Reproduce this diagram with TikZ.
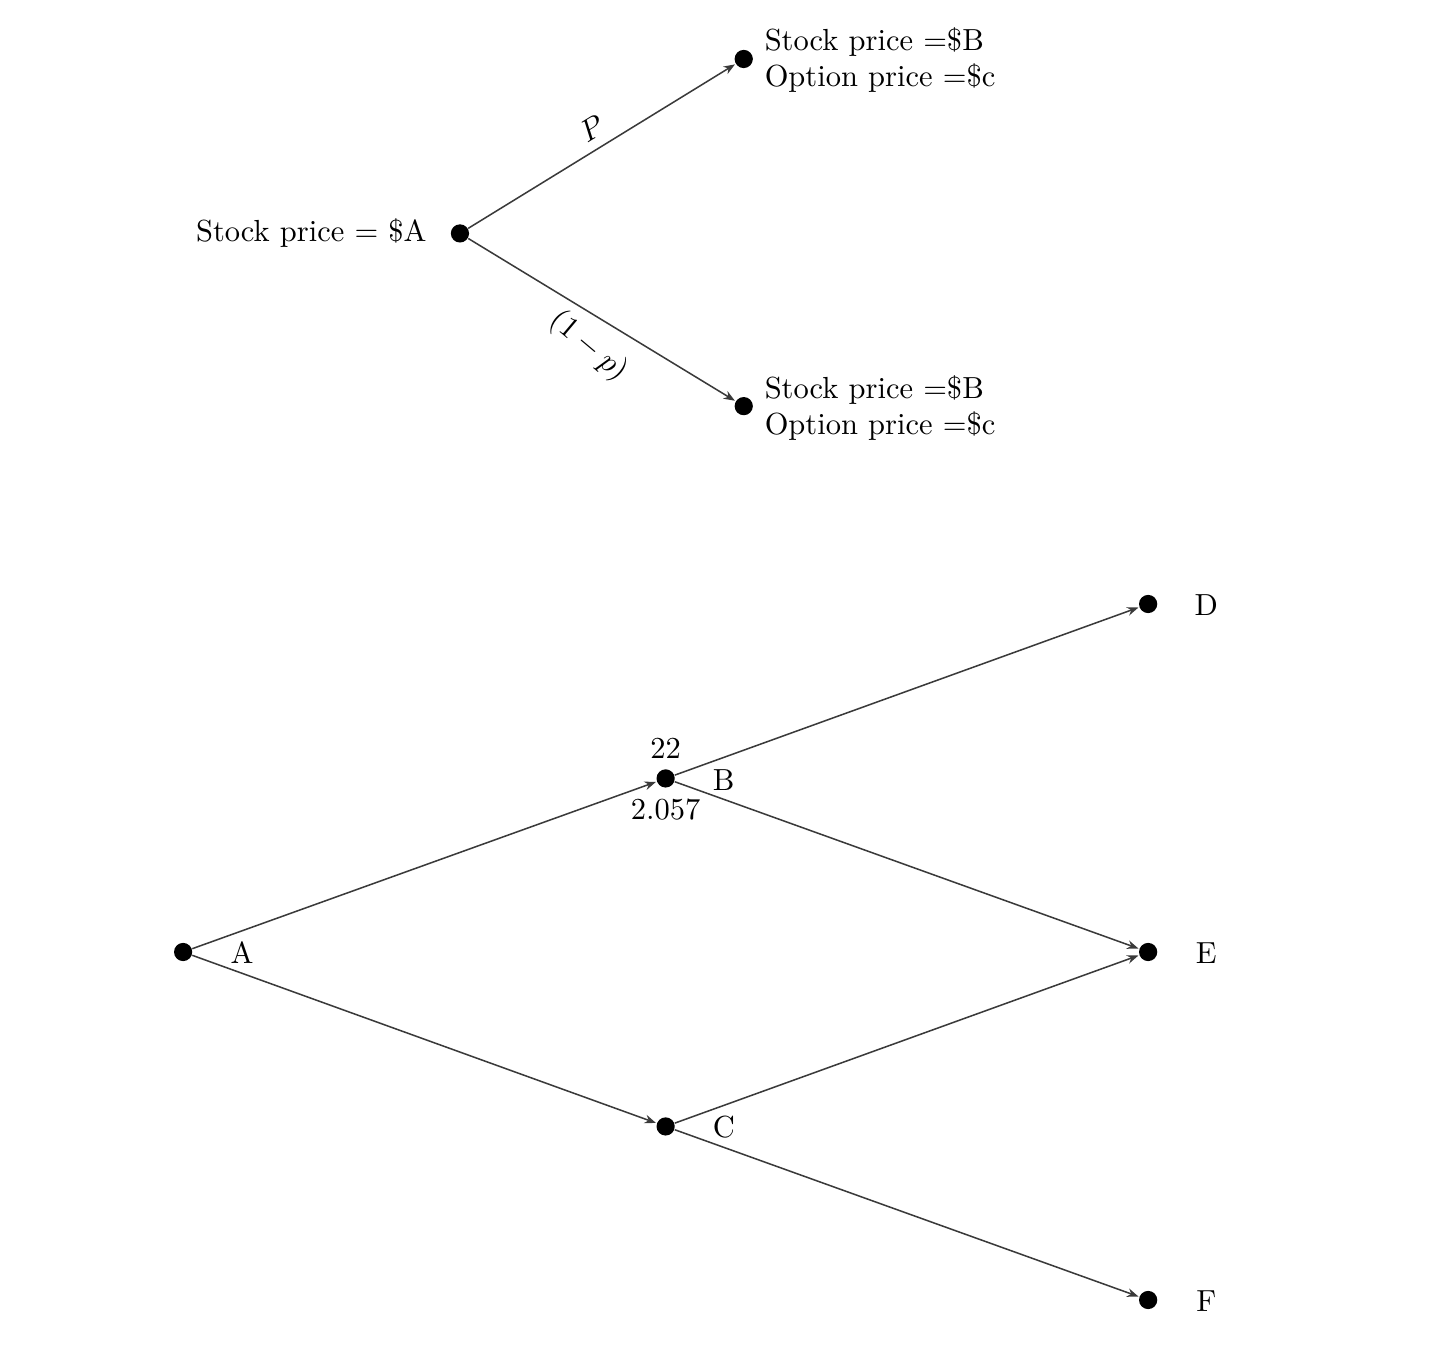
\documentclass[tikz,border=0pt]{standalone}
\usepackage{tikz}
\usetikzlibrary{positioning,arrows.meta}
\definecolor{edgeink}{HTML}{3A3A3A}
\tikzset{
  dot/.style   = {circle, fill=black, inner sep=0pt, minimum size=2.1mm},
  edge/.style  = {-{Stealth[length=1.3mm,width=1mm]}, draw=edgeink, line width=0.5pt, shorten >=0.2pt},
  lab/.style   = {inner sep=1pt, font=\normalsize},
  twoline/.style = {align=left, inner sep=1pt, font=\normalsize},
}
\begin{document}
\begin{tikzpicture}[x=1mm,y=1mm]
\path[use as bounding box] (0,0) rectangle (165.7,157.4);

% ---- one step tree ------------------------------------------------------
\node[dot] (s0) at (53.0,130.5) {};
\node[dot] (su) at (85.7,150.6) {};
\node[dot] (sd) at (85.7,110.6) {};

\node[lab, left=2.3mm of s0] (s0lab) {Stock price = \$A};
\node[twoline, anchor=west] (sulab) at (87.7,150.5) {Stock price =\$B\\Option price =\$c};
\node[twoline, anchor=west] (sdlab) at (87.7,110.4) {Stock price =\$B\\Option price =\$c};

\draw[edge] (s0) -- (su);
\draw[edge] (s0) -- (sd);
\node[lab, rotate=31.5] (pup) at (68.2,142.6) {$P$};
\node[lab, rotate=-40] (pdn) at (67.8,117.5) {$(1-p)$};

% ---- two step tree ------------------------------------------------------
\node[dot] (nA) at (21.1,47.7) {};
\node[dot] (nB) at (76.7,67.7) {};
\node[dot] (nC) at (76.7,27.6) {};
\node[dot] (nD) at (132.3,87.8) {};
\node[dot] (nE) at (132.3,47.7) {};
\node[dot] (nF) at (132.3,7.6) {};

\node[lab] (labA) at (27.9,47.6) {A};
\node[lab] (labB) at (83.4,67.5) {B};
\node[lab] (labC) at (83.4,27.5) {C};
\node[lab] (labD) at (139.0,87.7) {D};
\node[lab] (labE) at (139.0,47.6) {E};
\node[lab] (labF) at (139.0,7.5) {F};

\node[lab, above=0.8mm of nB] (upB) {22};
\node[lab, below=0.8mm of nB] (dnB) {2.057};

\draw[edge] (nA) -- (nB);
\draw[edge] (nA) -- (nC);
\draw[edge] (nB) -- (nD);
\draw[edge] (nB) -- (nE);
\draw[edge] (nC) -- (nE);
\draw[edge] (nC) -- (nF);

\end{tikzpicture}
\end{document}
